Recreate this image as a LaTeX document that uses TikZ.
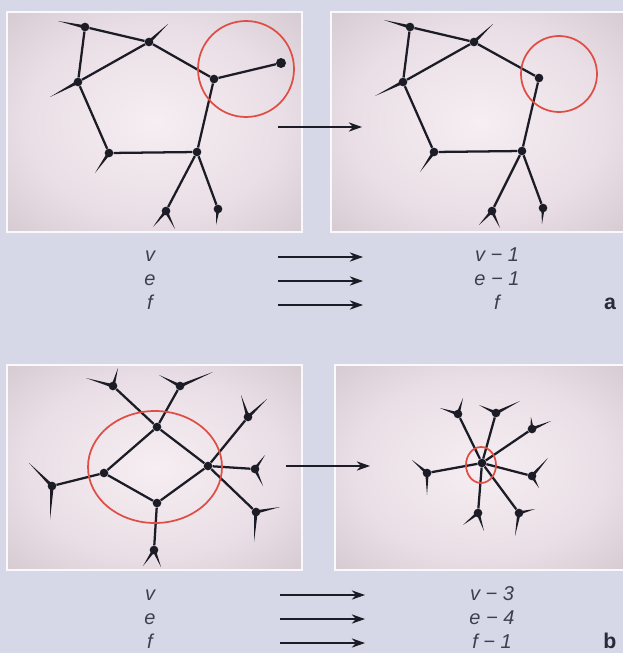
\documentclass[tikz,border=0pt]{standalone}
\usepackage{fontspec}
\setmainfont{Liberation Sans}
\usetikzlibrary{arrows.meta,calc,shapes.geometric}
\definecolor{bg}{RGB}{215,216,231}
\definecolor{pin}{RGB}{246,238,243}
\definecolor{pmid}{RGB}{233,222,229}
\definecolor{pout}{RGB}{195,182,190}
\definecolor{ink}{RGB}{28,28,38}
\definecolor{txt}{RGB}{62,62,80}
\definecolor{ringc}{RGB}{222,78,68}
\pgfdeclareradialshading{panelshade}{\pgfpoint{0bp}{0bp}}{color(0bp)=(pin); color(22bp)=(pmid); color(50bp)=(pout); color(75bp)=(pout)}
\tikzset{
  panel/.style={shading=panelshade, draw=white!85!bg, line width=0.9pt},
  vtx/.style={circle, fill=ink, inner sep=0pt, minimum size=6.5pt},
  edge/.style={draw=ink, line width=1.7pt},
  ringline/.style={draw=ringc, line width=1.3pt},
  flow/.style={draw=ink, line width=0.9pt, -{Stealth[length=10pt,width=7pt]}},
  lbl/.style={font=\fontsize{15}{18}\selectfont\itshape, text=txt, anchor=base, inner sep=0pt},
  tag/.style={font=\fontsize{16}{18}\selectfont\bfseries, text=txt!70!black, anchor=base, inner sep=0pt},
}
\newcommand\stubto[2]{\fill[ink] ($(#1.center)!1.3pt!90:(#2)$) -- (#2) -- ($(#1.center)!1.3pt!-90:(#2)$) -- cycle;}
\begin{document}
\begin{tikzpicture}[x=0.75pt,y=-0.75pt]
\useasboundingbox (0,0) rectangle (623,653);
\fill[bg] (0,0) rectangle (623,653);
% panels
\shade[panel] (7,12) rectangle (302,232);
\shade[panel] (331,12) rectangle (626,232);
\shade[panel] (7,365) rectangle (302,570);
\shade[panel] (335,365) rectangle (626,570);

% ---------- panel a left ----------
\node[vtx] (pA) at (85,27) {};
\node[vtx] (pB) at (149,42) {};
\node[vtx] (pC) at (78,82) {};
\node[vtx] (pD) at (214,79) {};
\node[vtx, minimum size=7.5pt] (pE) at (281,63) {};
\node[vtx] (pF) at (109,153) {};
\node[vtx] (pG) at (197,152) {};
\node[vtx] (pH) at (166,211) {};
\node[vtx] (pI) at (218,209) {};
\foreach \u/\v in {pA/pB,pA/pC,pC/pB,pB/pD,pC/pF,pF/pG,pG/pD,pD/pE,pG/pH,pG/pI}
  \draw[edge] (\u) -- (\v);
\coordinate (pAs) at (58,21);
\coordinate (pBs) at (168,24);
\coordinate (pCs) at (50,97);
\coordinate (pFs) at (95,173);
\coordinate (pHs1) at (153,227);
\coordinate (pHs2) at (175,229);
\coordinate (pIs) at (216,225);
\stubto{pA}{pAs}\stubto{pB}{pBs}\stubto{pC}{pCs}\stubto{pF}{pFs}
\stubto{pH}{pHs1}\stubto{pH}{pHs2}\stubto{pI}{pIs}
\node[ringline, circle, minimum size=72pt, inner sep=0pt] (pR) at (246,69) {};

% ---------- panel a right ----------
\node[vtx] (qA) at (410,27) {};
\node[vtx] (qB) at (474,42) {};
\node[vtx] (qC) at (403,82) {};
\node[vtx] (qD) at (539,78) {};
\node[vtx] (qF) at (434,152) {};
\node[vtx] (qG) at (522,151) {};
\node[vtx] (qH) at (492,211) {};
\node[vtx] (qI) at (543,208) {};
\foreach \u/\v in {qA/qB,qA/qC,qC/qB,qB/qD,qC/qF,qF/qG,qG/qD,qG/qH,qG/qI}
  \draw[edge] (\u) -- (\v);
\coordinate (qAs) at (384,20);
\coordinate (qBs) at (493,24);
\coordinate (qCs) at (375,96);
\coordinate (qFs) at (420,172);
\coordinate (qHs1) at (479,225);
\coordinate (qHs2) at (500,228);
\coordinate (qIs) at (542,224);
\stubto{qA}{qAs}\stubto{qB}{qBs}\stubto{qC}{qCs}\stubto{qF}{qFs}
\stubto{qH}{qHs1}\stubto{qH}{qHs2}\stubto{qI}{qIs}
\node[ringline, circle, minimum size=57pt, inner sep=0pt] (qR) at (559,74) {};

% arrow a
\coordinate (ma1) at (278,127);
\coordinate (ma2) at (362,127);
\draw[flow] (ma1) -- (ma2);

% ---------- panel b left ----------
\node[vtx] (rN1) at (157,427) {};
\node[vtx] (rN2) at (104,473) {};
\node[vtx] (rN3) at (208,466) {};
\node[vtx] (rN4) at (157,503) {};
\node[vtx] (rO1) at (113,386) {};
\node[vtx] (rO2) at (180,386) {};
\node[vtx] (rO3) at (248,417) {};
\node[vtx] (rO4) at (255,469) {};
\node[vtx] (rO5) at (256,512) {};
\node[vtx] (rO6) at (154,550) {};
\node[vtx] (rO7) at (52,486) {};
\foreach \u/\v in {rN1/rN2,rN1/rN3,rN2/rN4,rN3/rN4,rO1/rN1,rO2/rN1,rO3/rN3,rO4/rN3,rO5/rN3,rO6/rN4,rO7/rN2}
  \draw[edge] (\u) -- (\v);
\coordinate (rO1a) at (86,378);  \coordinate (rO1b) at (118,368);
\coordinate (rO2a) at (159,375); \coordinate (rO2b) at (213,372);
\coordinate (rO3a) at (241,395); \coordinate (rO3b) at (267,399);
\coordinate (rO4a) at (265,455); \coordinate (rO4b) at (263,486);
\coordinate (rO5a) at (280,507); \coordinate (rO5b) at (254,542);
\coordinate (rO6a) at (143,566); \coordinate (rO6b) at (161,567);
\coordinate (rO7a) at (29,463);  \coordinate (rO7b) at (50,520);
\foreach \n in {rO1,rO2,rO3,rO4,rO5,rO6,rO7}{
  \stubto{\n}{\n a}\stubto{\n}{\n b}}
\node[ringline, ellipse, minimum width=100.5pt, minimum height=84pt, inner sep=0pt] (rR) at (155,467) {};

% ---------- panel b right ----------
\node[vtx] (sC) at (482,463) {};
\node[vtx] (sP1) at (458,414) {};
\node[vtx] (sP2) at (496,413) {};
\node[vtx] (sP3) at (532,429) {};
\node[vtx] (sP4) at (532,476) {};
\node[vtx] (sP5) at (519,513) {};
\node[vtx] (sP6) at (478,513) {};
\node[vtx] (sP7) at (427,473) {};
\foreach \n in {sP1,sP2,sP3,sP4,sP5,sP6,sP7}
  \draw[edge] (sC) -- (\n);
\coordinate (sP1a) at (440,408); \coordinate (sP1b) at (463,398);
\coordinate (sP2a) at (479,405); \coordinate (sP2b) at (520,401);
\coordinate (sP3a) at (531,417); \coordinate (sP3b) at (551,421);
\coordinate (sP4a) at (548,458); \coordinate (sP4b) at (539,488);
\coordinate (sP5a) at (535,509); \coordinate (sP5b) at (515,536);
\coordinate (sP6a) at (463,525); \coordinate (sP6b) at (484,531);
\coordinate (sP7a) at (412,460); \coordinate (sP7b) at (427,495);
\foreach \n in {sP1,sP2,sP3,sP4,sP5,sP6,sP7}{
  \stubto{\n}{\n a}\stubto{\n}{\n b}}
\node[ringline, ellipse, minimum width=22.5pt, minimum height=27pt, inner sep=0pt] (sR) at (481,465) {};

% arrow b
\coordinate (mb1) at (286,466);
\coordinate (mb2) at (370,466);
\draw[flow] (mb1) -- (mb2);

% ---------- text a ----------
\node[lbl] (ta1) at (150,261.5) {v};
\node[lbl] (ta2) at (150,285.5) {e};
\node[lbl] (ta3) at (150,309.5) {f};
\coordinate (fa1s) at (278,257); \coordinate (fa1e) at (363,257);
\coordinate (fa2s) at (278,281); \coordinate (fa2e) at (363,281);
\coordinate (fa3s) at (278,305); \coordinate (fa3e) at (363,305);
\draw[flow] (fa1s) -- (fa1e);
\draw[flow] (fa2s) -- (fa2e);
\draw[flow] (fa3s) -- (fa3e);
\node[lbl] (ua1) at (497,261.5) {v − 1};
\node[lbl] (ua2) at (497,285.5) {e − 1};
\node[lbl] (ua3) at (497,309.5) {f};
\node[tag] (taga) at (610,309.5) {a};

% ---------- text b ----------
\node[lbl] (tb1) at (150,600.5) {v};
\node[lbl] (tb2) at (150,624.5) {e};
\node[lbl] (tb3) at (150,648.5) {f};
\coordinate (fb1s) at (280,595); \coordinate (fb1e) at (365,595);
\coordinate (fb2s) at (280,619); \coordinate (fb2e) at (365,619);
\coordinate (fb3s) at (280,643); \coordinate (fb3e) at (365,643);
\draw[flow] (fb1s) -- (fb1e);
\draw[flow] (fb2s) -- (fb2e);
\draw[flow] (fb3s) -- (fb3e);
\node[lbl] (ub1) at (492,600.5) {v − 3};
\node[lbl] (ub2) at (492,624.5) {e − 4};
\node[lbl] (ub3) at (492,648.5) {f − 1};
\node[tag] (tagb) at (610,648.5) {b};
\end{tikzpicture}
\end{document}
